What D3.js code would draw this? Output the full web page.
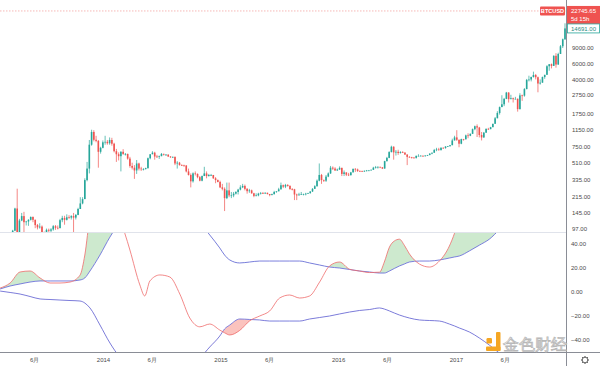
<!DOCTYPE html>
<html><head><meta charset="utf-8">
<script src="https://cdn.jsdelivr.net/npm/d3@7"></script>
<style>
html,body{margin:0;padding:0;background:#fff;overflow:hidden}
svg{display:block}
text{font-family:"Liberation Sans",Arial,sans-serif}
</style></head>
<body><svg id="c" width="600" height="366"></svg>
<script>
// ---------------- DATA ----------------
const symbol = "BTCUSD";
const lastPrice = 22745.65;
const countdown = "5d 15h";
const highLabel = 14691.00;
const firstWeek = "2013-03-25";
const firstOpen = 72;
// weekly closes / highs / lows (BTCUSD, log scale)
const closes = [93,162,90,120,134,115,117,122,131,122,107,101,103,90,76,95,93,96,104,100,99,121,128,122,130,129,134,129,138,160,184,205,330,440,800,1100,905,880,670,740,850,
860,830,900,820,680,630,600,670,635,635,565,470,450,420,500,440,435,435,445,570,630,655,595,590,600,635,625,625,595,585,590,500,510,480,477,475,410,375,320,390,385,355,325,365,390,365,375,375,345,330,315,275,
265,210,255,225,225,235,245,260,275,285,265,250,255,237,222,225,235,238,237,240,233,227,232,245,249,262,290,280,292,285,263,262,230,225,230,232,232,235,238,248,265,283,325,375,330,325,360,390,450,440,420,430,
448,385,400,378,373,400,437,430,415,412,410,416,420,420,427,450,455,460,455,440,530,575,665,760,660,670,650,665,655,625,590,585,580,575,605,605,607,600,610,617,640,655,700,710,700,740,735,765,770,790,890,960,
905,820,920,915,1010,1000,1050,1180,1270,1230,1020,960,1080,1190,1180,1240,1350,1550,1770,2050,2200,2520,2950,2500,2560,2500,2520,1950,2750,2730,3220,4050,4090,4350,4580,4330,3700,3780,4350,4600,5700,6000,5750,7400,5950,7750,9400,11200,14691];
const highs = [95,165,266,125,145,149,119,124,133,133,123,110,112,106,91,98,98,99,107,107,106,125,135,135,140,137,137,145,141,165,215,215,345,520,900,1163,1150,1000,900,760,890,
1000,900,960,950,840,720,660,680,715,650,640,590,510,480,545,510,460,445,450,580,630,680,670,620,610,650,640,630,625,600,595,595,530,520,490,485,480,440,390,400,410,390,365,370,460,410,385,385,375,355,335,325,
300,275,310,310,245,245,250,265,290,300,295,270,265,260,240,237,240,245,245,243,241,232,235,252,250,272,310,295,300,298,290,270,265,235,240,245,235,240,240,250,270,290,335,500,385,335,375,400,470,465,455,440,
465,450,420,400,395,405,440,445,440,420,418,420,425,425,430,460,470,465,460,455,535,590,680,780,770,700,705,680,680,665,630,600,590,585,610,630,615,610,615,620,645,655,720,740,740,750,750,770,775,795,930,1000,
1150,910,930,925,1030,1065,1060,1200,1290,1330,1250,1100,1100,1200,1220,1250,1350,1600,1850,2080,2760,2580,3000,2980,2790,2600,2650,2550,2900,2800,3300,4150,4500,4400,4980,4700,4400,4100,4400,4600,5850,6000,6100,7500,7900,8000,9700,11400,16700];
const lows = [70,92,75,68,118,80,106,105,120,115,99,96,98,88,65,68,86,88,93,95,96,99,115,108,120,125,123,85,123,137,160,180,205,320,390,780,870,850,450,640,730,
800,800,800,780,660,520,540,410,620,610,550,450,430,340,385,420,415,420,430,440,555,630,550,575,560,600,610,605,590,575,575,480,440,475,470,460,400,370,275,310,370,345,320,320,365,345,360,365,340,305,312,270,
255,152,205,215,210,215,230,230,255,270,255,235,240,235,215,220,220,230,233,233,230,220,225,230,240,250,260,270,270,280,260,255,200,200,225,228,225,225,234,235,245,265,280,320,300,315,315,355,385,425,415,415,
425,365,365,365,365,370,400,405,405,405,405,405,410,415,420,425,440,440,445,435,440,525,570,660,550,610,620,640,650,620,480,580,565,565,565,600,600,590,595,605,615,630,650,680,690,690,725,725,755,765,790,890,
880,750,810,885,915,940,990,1050,1150,970,960,890,950,1080,1160,1180,1240,1350,1550,1700,2050,2100,2500,2300,2500,2300,2500,1830,1930,2400,2660,3200,3900,3900,4300,4100,2970,3600,3770,4160,4600,5100,5400,5750,5500,5900,7750,9000,11000];
const priceTicks = [97,145,215,335,510,750,1150,1750,2750,4000,6000,9000];
const oscTicks = [40,20,0,-20,-40];
const timeTickDates = ["2013-06-01","2014-01-01","2014-06-01","2015-01-01","2015-06-01","2016-01-01","2016-06-01","2017-01-01","2017-06-01"];
const timeTickLabels = ["6月","2014","6月","2015","6月","2016","6月","2017","6月"];
// oscillator (red line with upper / lower blue bands)
const oscDates = ["2013-02-14","2013-03-17","2013-04-17","2013-05-18","2013-06-18","2013-07-19","2013-08-19","2013-09-19","2013-10-20","2013-11-04","2013-11-20","2013-12-21",
"2014-01-21","2014-02-21","2014-03-08","2014-03-24","2014-04-24","2014-05-09","2014-05-25","2014-06-25","2014-07-26","2014-08-26","2014-09-26","2014-10-27","2014-11-27","2014-12-28",
"2015-01-12","2015-01-28","2015-02-28","2015-03-31","2015-05-01","2015-06-01","2015-07-02","2015-08-02","2015-09-02","2015-10-03","2015-11-03","2015-12-04",
"2016-01-04","2016-02-04","2016-03-06","2016-04-06","2016-05-07","2016-05-22","2016-06-07","2016-06-22","2016-07-08","2016-07-23","2016-08-08","2016-09-08","2016-10-09","2016-11-09","2016-12-10","2016-12-26",
"2017-01-10","2017-02-10","2017-03-13","2017-04-13","2017-05-14","2017-06-14","2017-07-15","2017-08-15","2017-09-15","2017-10-16","2017-11-16","2017-12-04"];
const oscRed = [3.3,7.5,16.7,17.5,11.7,7.5,7.5,8.3,14,30.8,62,80,
78,60,49,35,5.8,-3.3,9.2,14.2,12.5,-1.7,-21.7,-29,-26.7,-31.7,
-34,-35.8,-32,-24,-20,-15.8,-5,-2.5,-5,-3.3,8.3,21.7,
25,19,17.5,16.2,16.5,25,37.5,42.5,44,39,31.7,23.3,20.8,25.8,38.3,49,
62,75,80,85,85,80,80,85,85,88,92,95];
const oscUpper = [2.5,5,6.7,8.3,9.2,9.2,9.2,9.2,10,11.7,17.5,30.8,
45.8,58,63,68,75,77,78,80,80,75,68,58,47.5,36.7,
30.8,26.7,24.2,25,25.8,25.8,25.8,25.8,25.8,24.2,22.5,20.8,
20,18.75,17.5,16.7,15.8,15.8,17.5,19.6,21.7,23.3,25,25.8,25.8,26.7,28.3,29.2,
30,34.2,39,44,51.7,58,62,66,70,73,76,78];
const oscLower = [0.8,-0.4,-1.7,-3.75,-5.8,-6.25,-6.7,-7.1,-7.5,-9.2,-13.3,-27.5,
-42.5,-54,-57,-60,-64,-65,-66,-67,-66,-64,-61,-55,-45.8,-36.7,
-30.8,-27.5,-22.5,-22.9,-23.3,-24.2,-24.2,-24.2,-24.2,-22.5,-21.25,-20,
-18.3,-16.7,-15.4,-14.6,-13.3,-14.2,-15.8,-17.5,-19.2,-20.5,-21.7,-23.3,-23.75,-24.2,-26.7,-28.3,
-30,-33.3,-38.3,-44.2,-50.8,-56,-60,-64,-67,-70,-72,-73];

// ---------------- LAYOUT ----------------
const W = 600, H = 366;
const axisX = 566;
const mainTop = 0, mainBottom = 232, oscTop = 233, oscBottom = 352;
const GREEN = "#26a69a", RED = "#ef5350";
const pd = d3.utcParse("%Y-%m-%d");

const svg = d3.select("#c");
const defs = svg.append("defs");
defs.append("clipPath").attr("id","clipMain").append("rect").attr("x",0).attr("y",mainTop).attr("width",axisX).attr("height",mainBottom-mainTop);
defs.append("clipPath").attr("id","clipOsc").append("rect").attr("x",0).attr("y",oscTop).attr("width",axisX).attr("height",oscBottom-oscTop);

const x = d3.scaleUtc().domain([pd("2014-01-01"), pd("2017-12-04")]).range([103.5, 565]);
const yP = d3.scaleLog().domain([97, 9000]).range([229, 48]);
const yO = d3.scaleLinear().domain([-40, 40]).range([340, 244]);

// ---------------- MAIN PANE ----------------
const start = pd(firstWeek);
const bars = closes.map((c,i) => ({
  d: d3.utcDay.offset(start, 7*i),
  o: i===0 ? firstOpen : closes[i-1], c, h: highs[i], l: lows[i]
}));
const gMain = svg.append("g").attr("clip-path","url(#clipMain)");

// last price dotted line
gMain.append("line").attr("x1",0).attr("x2",axisX).attr("y1",yP(lastPrice)).attr("y2",yP(lastPrice))
  .attr("stroke","#f4a6a5").attr("stroke-width",0.8).attr("stroke-dasharray","1.5,1.5");

const bw = 1.6;
const gc = gMain.append("g");
gc.selectAll("line.w").data(bars).join("line").attr("class","w")
  .attr("x1",d=>x(d.d)).attr("x2",d=>x(d.d))
  .attr("y1",d=>yP(d.h)).attr("y2",d=>yP(d.l))
  .attr("stroke",d=>d.c>=d.o?GREEN:RED).attr("stroke-width",0.7);
gc.selectAll("rect.b").data(bars).join("rect").attr("class","b")
  .attr("x",d=>x(d.d)-bw/2).attr("width",bw)
  .attr("y",d=>yP(Math.max(d.o,d.c)))
  .attr("height",d=>Math.max(0.7, Math.abs(yP(d.o)-yP(d.c))))
  .attr("fill",d=>d.c>=d.o?GREEN:RED);

// ---------------- OSC PANE ----------------
const osc = oscDates.map((s,i)=>({d:pd(s), r:oscRed[i], u:oscUpper[i], lo:oscLower[i]}));
const gOsc = svg.append("g").attr("clip-path","url(#clipOsc)");
const curve = d3.curveMonotoneX;
defs.append("clipPath").attr("id","aboveUpper").append("path")
  .attr("d", d3.area().curve(curve).x(d=>x(d.d)).y0(-500).y1(d=>yO(d.u))(osc));
defs.append("clipPath").attr("id","belowLower").append("path")
  .attr("d", d3.area().curve(curve).x(d=>x(d.d)).y0(d=>yO(d.lo)).y1(900)(osc));

gOsc.append("path").attr("clip-path","url(#aboveUpper)")
  .attr("d", d3.area().curve(curve).x(d=>x(d.d)).y0(d=>yO(d.u)).y1(d=>yO(d.r))(osc))
  .attr("fill","rgba(76,175,80,0.28)");
gOsc.append("path").attr("clip-path","url(#belowLower)")
  .attr("d", d3.area().curve(curve).x(d=>x(d.d)).y0(d=>yO(d.lo)).y1(d=>yO(d.r))(osc))
  .attr("fill","rgba(244,67,54,0.32)");

const ln = key => d3.line().curve(curve).x(d=>x(d.d)).y(d=>yO(d[key]));
gOsc.append("path").attr("d", ln("u")(osc)).attr("fill","none").attr("stroke","#5b5fd6").attr("stroke-width",0.8);
gOsc.append("path").attr("d", ln("lo")(osc)).attr("fill","none").attr("stroke","#5b5fd6").attr("stroke-width",0.8);
gOsc.append("path").attr("d", ln("r")(osc)).attr("fill","none").attr("stroke","#ef6b6b").attr("stroke-width",0.8);

// ---------------- FRAME ----------------
svg.append("line").attr("x1",0).attr("x2",axisX).attr("y1",mainBottom+0.5).attr("y2",mainBottom+0.5).attr("stroke","#e0e3eb").attr("stroke-width",1);
svg.append("line").attr("x1",0).attr("x2",W).attr("y1",oscBottom+0.5).attr("y2",oscBottom+0.5).attr("stroke","#8a8d96").attr("stroke-width",1);
svg.append("line").attr("x1",axisX+0.5).attr("x2",axisX+0.5).attr("y1",0).attr("y2",H).attr("stroke","#8a8d96").attr("stroke-width",1);

// watermark (kept left of the price axis so it does not cover the axis labels)
const wm = svg.append("g");
wm.append("rect").attr("x",496).attr("y",332).attr("width",4.5).attr("height",19).attr("rx",1).attr("fill","#f5a623");
wm.append("rect").attr("x",486).attr("y",346.5).attr("width",14.5).attr("height",4.5).attr("rx",1).attr("fill","#f5a623");
wm.append("rect").attr("x",486.5).attr("y",338).attr("width",5.5).attr("height",5.5).attr("rx",1.3).attr("fill","#f5a623");
wm.append("text").attr("x",503).attr("y",350).attr("font-family","'Noto Sans CJK SC',sans-serif")
  .attr("font-size",15.5).attr("fill","rgba(255,255,255,0.85)").attr("stroke","#b8b8b8").attr("stroke-width",0.8)
  .text("金色财经");

// price axis labels
const gAx = svg.append("g").attr("font-size",6).attr("fill","#4a4a4a");
gAx.selectAll("text.p").data(priceTicks).join("text").attr("class","p")
  .attr("x",572).attr("y",d=>yP(d)).attr("dy","0.35em").text(d=>d3.format(".2f")(d));
gAx.selectAll("text.o").data(oscTicks).join("text").attr("class","o")
  .attr("x",571).attr("y",d=>yO(d)).attr("dy","0.35em").text(d=>d3.format(".2f")(d).replace("-","\u2212"));

// time axis labels
svg.append("g").attr("font-size",6).attr("fill","#4a4a4a").attr("text-anchor","middle")
  .selectAll("text").data(timeTickDates).join("text")
  .attr("x",d=>x(pd(d))).attr("y",360).attr("dy","0.35em")
  .text((d,i)=>timeTickLabels[i]);

// price tags
const yl = yP(lastPrice);
svg.append("rect").attr("x",540).attr("y",yl-4.5).attr("width",25).attr("height",9).attr("fill",RED).attr("rx",1);
svg.append("text").attr("x",552.5).attr("y",yl).attr("dy","0.35em").attr("text-anchor","middle")
  .attr("font-size",5.6).attr("font-weight","bold").attr("fill","#fff").text(symbol);
svg.append("rect").attr("x",567).attr("y",yl-5).attr("width",33).attr("height",18).attr("fill",RED);
svg.append("text").attr("x",571).attr("y",yl).attr("dy","0.35em").attr("font-size",6).attr("fill","#fff").text(d3.format(".2f")(lastPrice));
svg.append("text").attr("x",571).attr("y",yl+7.5).attr("dy","0.35em").attr("font-size",6).attr("fill","#fff").text(countdown);
const yh = yP(highLabel);
svg.append("rect").attr("x",567.5).attr("y",yh-4.5).attr("width",32).attr("height",9).attr("fill","#fff").attr("stroke",GREEN).attr("stroke-width",0.8);
svg.append("text").attr("x",571).attr("y",yh).attr("dy","0.35em").attr("font-size",6).attr("fill","#2b8a80").text(d3.format(".2f")(highLabel));

// gear icon
const gear = svg.append("g").attr("transform","translate(585,360)");
gear.append("circle").attr("r",2.8).attr("fill","none").attr("stroke","#555").attr("stroke-width",0.9);
gear.selectAll("line").data(d3.range(8)).join("line")
  .attr("x1",d=>2.8*Math.cos(d*Math.PI/4)).attr("y1",d=>2.8*Math.sin(d*Math.PI/4))
  .attr("x2",d=>4*Math.cos(d*Math.PI/4)).attr("y2",d=>4*Math.sin(d*Math.PI/4))
  .attr("stroke","#555").attr("stroke-width",1);
</script></body></html>
